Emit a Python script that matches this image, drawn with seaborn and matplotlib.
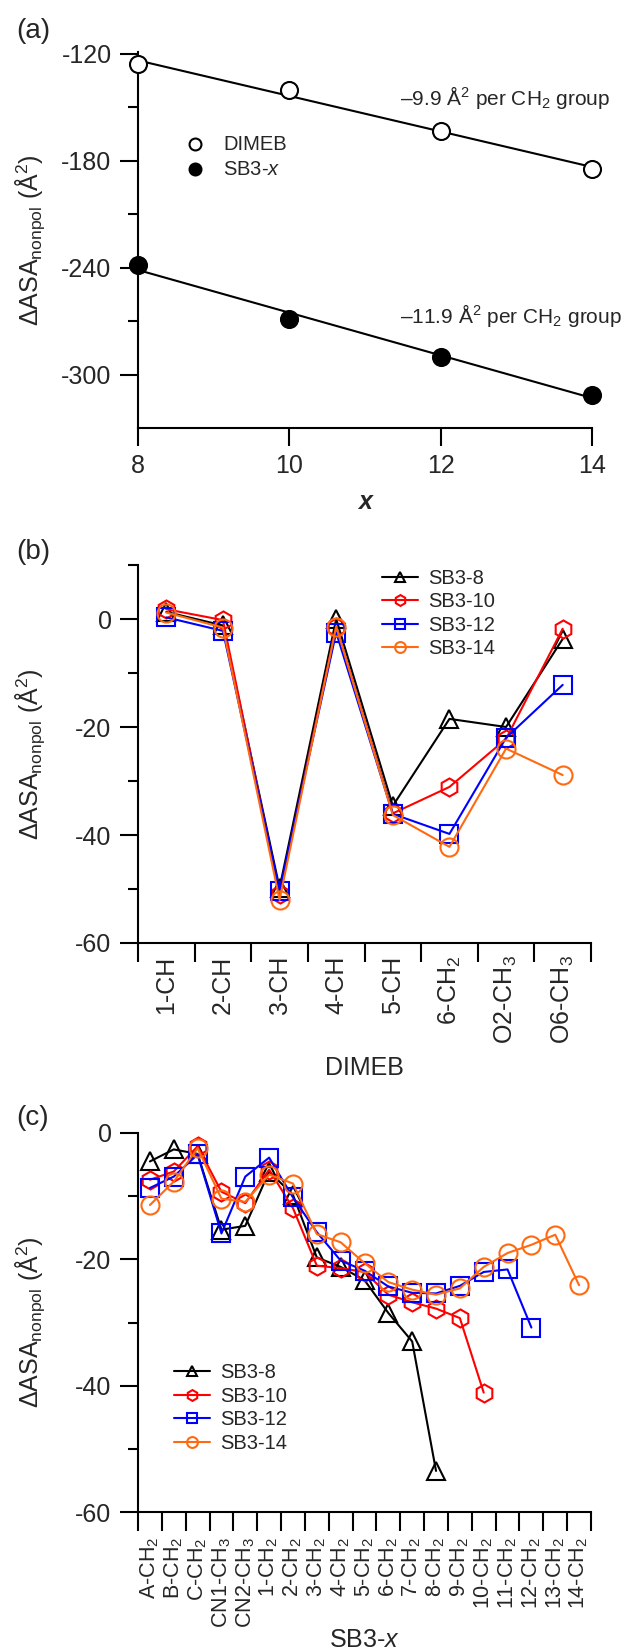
import numpy as np
import seaborn as sns
import matplotlib.pyplot as plt
from matplotlib.ticker import FixedLocator, NullFormatter

# ---- panel (a): total nonpolar ASA change vs chain length
x_chain = [8, 10, 12, 14]
dimeb_asa = [-126.0, -140.3, -163.5, -184.7]
sb3_asa = [-238.5, -269.1, -290.1, -311.3]

# ---- panel (b): per-group change on DIMEB
dimeb_groups = ['1-CH', '2-CH', '3-CH', '4-CH', '5-CH', '6-CH$_2$', 'O2-CH$_3$', 'O6-CH$_3$']
b_sb3_8 = [1.3, -1.2, -49.8, 0.0, -34.6, -18.5, -20.0, -3.7]
b_sb3_10 = [1.8, -0.2, -51.0, -1.4, -36.0, -31.1, -22.2, -1.8]
b_sb3_12 = [0.3, -2.2, -50.3, -2.5, -36.1, -39.8, -22.0, -12.2]
b_sb3_14 = [1.2, -1.6, -52.0, -1.4, -36.3, -42.2, -24.0, -28.9]

# ---- panel (c): per-group change on the surfactant
sb3_groups = ['A-CH$_2$', 'B-CH$_2$', 'C-CH$_2$', 'CN1-CH$_3$', 'CN2-CH$_3$',
              '1-CH$_2$', '2-CH$_2$', '3-CH$_2$', '4-CH$_2$', '5-CH$_2$', '6-CH$_2$',
              '7-CH$_2$', '8-CH$_2$', '9-CH$_2$', '10-CH$_2$', '11-CH$_2$', '12-CH$_2$',
              '13-CH$_2$', '14-CH$_2$']
c_sb3_8 = [-4.5, -2.6, -3.3, -15.3, -14.7, -6.1, -9.8, -19.7, -21.2, -23.3, -28.5, -33.0, -53.5]
c_sb3_10 = [-7.4, -6.1, -2.1, -9.3, -11.1, -5.8, -11.9, -21.0, -21.4, -22.0, -25.6, -26.8, -27.8,
            -29.3, -41.1]
c_sb3_12 = [-8.7, -6.9, -3.4, -15.9, -6.9, -3.9, -10.2, -15.7, -20.2, -21.8, -24.3, -25.3, -25.4,
            -24.2, -22.0, -21.6, -30.8]
c_sb3_14 = [-11.4, -7.7, -2.4, -10.4, -10.9, -6.6, -8.0, -16.0, -17.3, -20.6, -23.6, -24.8, -25.6,
            -24.6, -21.2, -19.0, -17.7, -16.1, -24.1]

series_names = ['SB3-8', 'SB3-10', 'SB3-12', 'SB3-14']
series_colors = ['black', '#ff0000', '#0000ff', '#ff6a10']
series_markers = ['^', 'h', 's', 'o']

sns.set_style("ticks")
plt.rcParams['font.family'] = ['Liberation Sans', 'DejaVu Sans']
plt.rcParams['mathtext.fontset'] = 'custom'
plt.rcParams['mathtext.rm'] = 'Liberation Sans'
plt.rcParams['mathtext.it'] = 'Liberation Sans:italic'
plt.rcParams['mathtext.bf'] = 'Liberation Sans:bold'
plt.rcParams['axes.unicode_minus'] = False

W, H = 628, 1652
fig = plt.figure(figsize=(W / 100, H / 100), dpi=100)


def box(left, top, right, bottom):
    return [left / W, 1 - bottom / H, (right - left) / W, (bottom - top) / H]


def style(ax):
    sns.despine(ax=ax)
    for s in ['left', 'bottom']:
        ax.spines[s].set_linewidth(1.5)
        ax.spines[s].set_color('black')
    ax.tick_params(which='major', direction='out', length=13, width=1.5,
                   labelsize=18, pad=6, color='black')
    ax.tick_params(which='minor', direction='out', length=7.5, width=1.5, color='black')
    ax.set_ylabel('ΔASA$_{\\mathrm{nonpol}}$ (Å$^{2}$)', fontsize=18)
    ax.yaxis.set_label_coords(-0.20, 0.5)


# ================= (a)
ax = fig.add_axes(box(138, 52, 592, 428))
for vals, face in [(dimeb_asa, 'white'), (sb3_asa, 'black')]:
    sns.regplot(x=x_chain, y=vals, ci=None, truncate=True, ax=ax, color='black',
                scatter_kws=dict(s=150, facecolors=face, edgecolors='black', linewidths=1.5,
                                 alpha=1, zorder=3, clip_on=False),
                line_kws=dict(lw=1.5, zorder=2))
style(ax)
ax.set_xlim(8, 14)
ax.set_ylim(-330, -119)
ax.xaxis.set_major_locator(FixedLocator(x_chain))
ax.yaxis.set_major_locator(FixedLocator([-120, -180, -240, -300]))
ax.yaxis.set_minor_locator(FixedLocator([-150, -210, -270]))
ax.set_xlabel('x', fontsize=18, fontstyle='italic', fontweight='bold')
ax.xaxis.set_label_coords(0.5, -0.165)
ax.text(0.577, 0.878, '–9.9 Å$^{2}$ per CH$_{2}$ group', transform=ax.transAxes,
        fontsize=15, va='center', ha='left')
ax.text(0.577, 0.300, '–11.9 Å$^{2}$ per CH$_{2}$ group', transform=ax.transAxes,
        fontsize=15, va='center', ha='left')
ax.legend(handles=ax.collections[:2], labels=['DIMEB', 'SB3-$x$'], loc='upper left',
          bbox_to_anchor=(0.103, 0.78), frameon=False, fontsize=14.5, borderpad=0,
          borderaxespad=0, handletextpad=0.9, handlelength=1.0, labelspacing=0.3,
          markerscale=0.7, scatterpoints=1)


def category_panel(ax, groups, series, tick_size, tick_pad):
    pos = np.arange(len(groups))
    for name, vals, color, marker in zip(series_names, series, series_colors, series_markers):
        sns.lineplot(x=pos[:len(vals)], y=vals, ax=ax, estimator=None, sort=False,
                     color=color, marker=marker, markersize=13, mfc='none', mec=color,
                     mew=1.5, lw=1.5, label=name, clip_on=False)
    style(ax)
    ax.set_xlim(-0.5, len(groups) - 0.5)
    ax.xaxis.set_major_locator(FixedLocator(np.arange(len(groups) + 1) - 0.5))
    ax.xaxis.set_major_formatter(NullFormatter())
    ax.xaxis.set_minor_locator(FixedLocator(pos))
    ax.set_xticks(pos, groups, minor=True, rotation=90)
    ax.tick_params(axis='x', which='major', length=14)
    ax.tick_params(axis='x', which='minor', length=0, labelsize=tick_size, pad=tick_pad)


# ================= (b)
ax = fig.add_axes(box(138, 565, 591, 943))
category_panel(ax, dimeb_groups, [b_sb3_8, b_sb3_10, b_sb3_12, b_sb3_14], 18, 9)
ax.set_ylim(-60, 10)
ax.yaxis.set_major_locator(FixedLocator([0, -20, -40, -60]))
ax.yaxis.set_minor_locator(FixedLocator([10, -10, -30, -50]))
ax.set_xlabel('DIMEB', fontsize=18)
ax.xaxis.set_label_coords(0.5, -0.30)
ax.legend(loc='upper left', bbox_to_anchor=(0.539, 0.99), frameon=False, fontsize=14.5,
          borderpad=0, borderaxespad=0, handlelength=1.8, handletextpad=0.5,
          labelspacing=0.22, markerscale=0.6)

# ================= (c)
ax = fig.add_axes(box(138, 1133, 591, 1512))
category_panel(ax, sb3_groups, [c_sb3_8, c_sb3_10, c_sb3_12, c_sb3_14], 15.5, 18)
ax.set_ylim(-60, 0)
ax.yaxis.set_major_locator(FixedLocator([0, -20, -40, -60]))
ax.yaxis.set_minor_locator(FixedLocator([-10, -30, -50]))
ax.set_xlabel('SB3-$x$', fontsize=18)
ax.xaxis.set_label_coords(0.5, -0.305)
ax.legend(loc='upper left', bbox_to_anchor=(0.0795, 0.392), frameon=False, fontsize=14.5,
          borderpad=0, borderaxespad=0, handlelength=1.8, handletextpad=0.5,
          labelspacing=0.22, markerscale=0.6)

# panel letters
for lab, yc in [('(a)', 31), ('(b)', 552), ('(c)', 1118)]:
    fig.text(16 / W, 1 - yc / H, lab, fontsize=20, va='center', ha='left')

fig.savefig('out.png', dpi=100)
